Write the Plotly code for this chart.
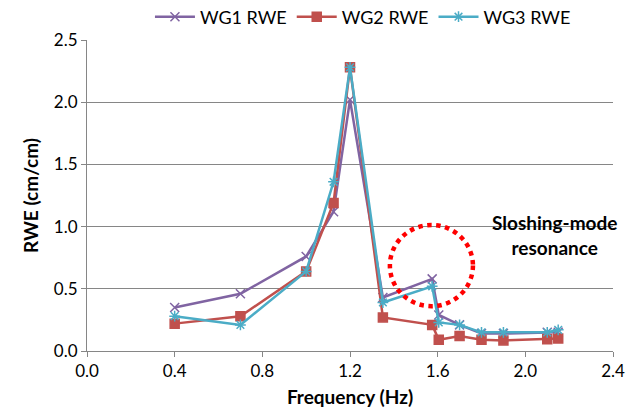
import plotly.graph_objects as go

freq = [0.4, 0.7, 1.0, 1.125, 1.2, 1.35, 1.575, 1.605, 1.7, 1.8, 1.9, 2.1, 2.15]
wg1 = [0.35, 0.46, 0.76, 1.12, 2.02, 0.43, 0.58, 0.29, 0.21, 0.14, 0.14, 0.15, 0.15]
wg2 = [0.22, 0.28, 0.64, 1.19, 2.28, 0.27, 0.21, 0.09, 0.12, 0.09, 0.085, 0.095, 0.10]
wg3 = [0.28, 0.21, 0.64, 1.36, 2.28, 0.39, 0.52, 0.23, 0.21, 0.15, 0.15, 0.15, 0.17]

names = ["WG1 RWE", "WG2 RWE", "WG3 RWE"]
colors = ["#8064A2", "#C0504D", "#4BACC6"]
symbols = ["x-thin-open", "square", "asterisk-open"]
series = [wg1, wg2, wg3]

annot_text = "Sloshing-mode<br>resonance"
circle_box = dict(x0=1.382, x1=1.761, y0=0.36, y1=1.013)

FONT = "Lato, 'Liberation Sans', sans-serif"

fig = go.Figure()
for name, ys, c, s in zip(names, series, colors, symbols):
    fig.add_trace(go.Scatter(
        x=freq, y=ys, name=name, mode="lines+markers",
        line=dict(color=c, width=2.5),
        marker=dict(symbol=s, size=9, color=c,
                    line=dict(color=c, width=1.5)),
    ))

fig.add_shape(type="circle", xref="x", yref="y", **circle_box,
              line=dict(color="#FF0000", width=4.5, dash="dot"))

fig.add_annotation(x=2.135, y=0.93, xref="x", yref="y", text=annot_text,
                   showarrow=False, align="center",
                   font=dict(family=FONT, size=19, color="#000000", weight="bold"))

fig.update_layout(
    width=639, height=419,
    margin=dict(l=87, r=26, t=40, b=68),
    paper_bgcolor="white", plot_bgcolor="white",
    font=dict(family=FONT, size=17, color="#000000"),
    showlegend=True,
    legend=dict(orientation="h", x=0.568, xref="container", xanchor="center",
                y=1 - 17 / 419, yref="container", yanchor="middle",
                font=dict(size=18), itemwidth=40, tracegroupgap=0,
                bgcolor="rgba(0,0,0,0)"),
    xaxis=dict(range=[0, 2.4], dtick=0.4, tick0=0, tickformat=".1f",
               showgrid=False, showline=True, linecolor="#868686", linewidth=1,
               ticks="outside", ticklen=5, tickcolor="#868686",
               zeroline=False, automargin=False,
               title=dict(text="<b>Frequency (Hz)</b>", font=dict(size=19), standoff=10)),
    yaxis=dict(range=[0, 2.5], dtick=0.5, tickformat=".1f",
               showgrid=True, gridcolor="#868686", gridwidth=1,
               showline=True, linecolor="#868686", linewidth=1,
               ticks="outside", ticklen=5, tickcolor="#868686",
               zeroline=False, automargin=False,
               title=dict(text="<b>RWE (cm/cm)</b>", font=dict(size=19), standoff=10)),
)

fig.write_html("out.html", config={"displayModeBar": False},
               post_script="document.body.style.margin='0px';")
